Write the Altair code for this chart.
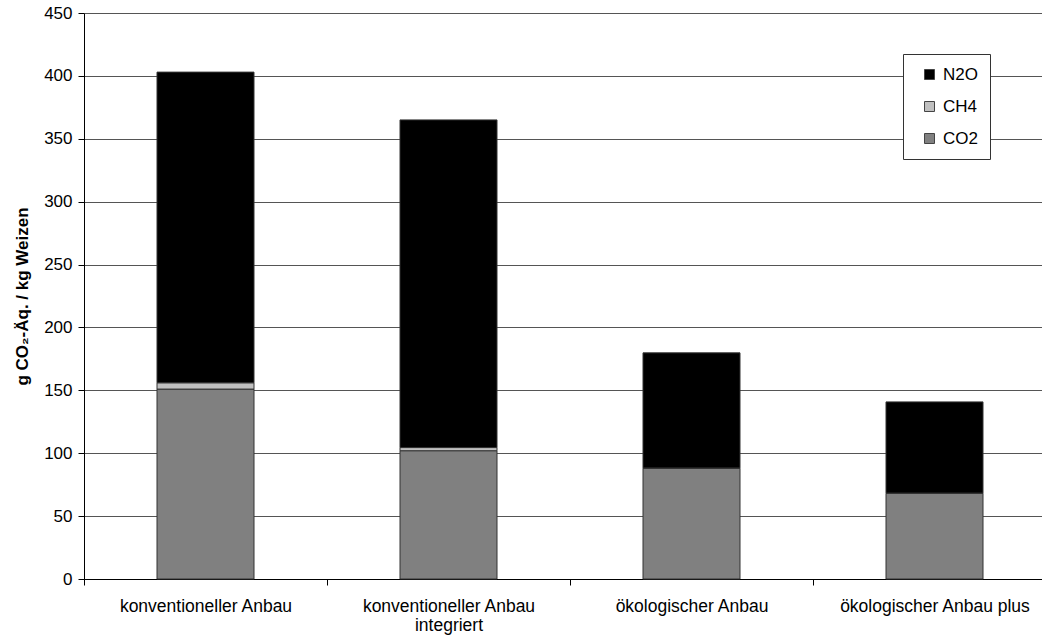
import altair as alt
import pandas as pd

# Greenhouse gas emissions per kg of wheat, by farming system
systems = [
    "konventioneller Anbau",
    "konventioneller Anbau\nintegriert",
    "ökologischer Anbau",
    "ökologischer Anbau plus",
]
co2 = [151, 102, 88, 68]
ch4 = [5, 2.5, 0.3, 0.3]
n2o = [247, 260.5, 91.5, 72.5]

gases = ["CO2", "CH4", "N2O"]
rows = []
for i, s in enumerate(systems):
    for k, (g, vals) in enumerate(zip(gases, [co2, ch4, n2o])):
        rows.append({"system": s, "gas": g, "value": vals[i], "stack": k})
df = pd.DataFrame(rows)

font = "Liberation Sans"

bars = alt.Chart(df).mark_bar(width=97, stroke="#333333", strokeWidth=1).encode(
    x=alt.X(
        "system:N",
        sort=systems,
        scale=alt.Scale(paddingInner=0, paddingOuter=0, range=[0, 972]),
        axis=alt.Axis(
            title=None,
            labelAngle=0,
            labelFont=font,
            labelFontSize=17.5,
            labelColor="#000000",
            labelPadding=12,
            labelLineHeight=19,
            labelLimit=0,
            labelExpr="split(datum.label, '\\n')",
            tickBand="extent",
            tickSize=6,
            tickColor="#000000",
            domainColor="#000000",
            grid=False,
        ),
    ),
    y=alt.Y(
        "value:Q",
        stack="zero",
        scale=alt.Scale(domain=[0, 450], nice=False),
        axis=alt.Axis(
            title="g CO₂-Äq. / kg Weizen",
            titleFont=font,
            titleFontSize=17,
            titleFontWeight="bold",
            titleColor="#000000",
            titlePadding=12,
            values=list(range(0, 451, 50)),
            labelFont=font,
            labelFontSize=17,
            labelColor="#000000",
            labelPadding=6,
            tickSize=6,
            tickColor="#000000",
            domainColor="#000000",
            gridColor="#555555",
            gridWidth=1,
        ),
    ),
    color=alt.Color(
        "gas:N",
        scale=alt.Scale(domain=["N2O", "CH4", "CO2"], range=["#000000", "#c0c0c0", "#808080"]),
        legend=alt.Legend(
            title=None,
            orient="none",
            legendX=819,
            legendY=41,
            labelFont=font,
            labelFontSize=17,
            labelColor="#000000",
            symbolType="square",
            symbolSize=100,
            symbolStrokeColor="#444444",
            symbolStrokeWidth=1,
            symbolOffset=6,
            rowPadding=14,
            padding=12,
            fillColor="#ffffff",
            strokeColor="#333333",
            labelOffset=5,
        ),
    ),
    order=alt.Order("stack:Q"),
)

chart = bars.properties(
    width=958,
    height=566,
    autosize=alt.AutoSizeParams(type="none"),
    padding={"left": 84, "top": 13, "right": 0, "bottom": 60},
    background="#ffffff",
).configure_view(stroke=None)

chart.save("out.html", embed_options={"renderer": "svg", "actions": False})
